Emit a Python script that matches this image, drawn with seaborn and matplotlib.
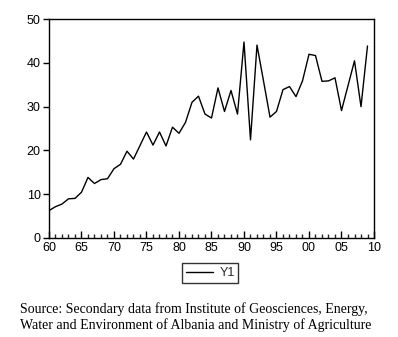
import numpy as np
import pandas as pd
import matplotlib
matplotlib.use("Agg")
import matplotlib.pyplot as plt
import seaborn as sns

# dados (1960-2009)
anos = list(range(1960, 2010))
y1 = [6.2, 7.1, 7.7, 8.9, 9.0, 10.4, 13.8, 12.4, 13.3, 13.5,
      15.8, 16.8, 19.8, 18.0, 21.1, 24.2, 21.2, 24.2, 21.0, 25.3,
      23.9, 26.4, 31.0, 32.4, 28.3, 27.4, 34.3, 28.9, 33.7, 28.3,
      44.8, 22.4, 44.1, 35.9, 27.6, 28.9, 33.9, 34.6, 32.3, 35.9,
      42.0, 41.7, 35.8, 35.9, 36.6, 29.1, 34.8, 40.5, 30.0, 43.9]
xticks = [1960, 1965, 1970, 1975, 1980, 1985, 1990, 1995, 2000, 2005, 2010]
xlabels = ["60", "65", "70", "75", "80", "85", "90", "95", "00", "05", "10"]
yticks = [0, 10, 20, 30, 40, 50]
fonte = ["Source: Secondary data from Institute of Geosciences, Energy,",
         "Water and Environment of Albania and Ministry of Agriculture"]

df = pd.DataFrame({"ano": anos, "Y1": y1})

sns.set_style("white")
plt.rcParams['font.family'] = ['Liberation Sans', 'DejaVu Sans']

fig = plt.figure(figsize=(3.98, 3.37), dpi=100)
ax = fig.add_axes([0.1231, 0.2947, 0.8166, 0.648])

sns.lineplot(data=df, x="ano", y="Y1", color="black", linewidth=1, ax=ax, label="Y1")

ax.set_xlim(1960, 2010)
ax.set_ylim(0, 50)
ax.set_xticks(xticks)
ax.set_xticklabels(xlabels)
ax.set_xticks(anos, minor=True)
ax.set_yticks(yticks)
ax.set_xlabel("")
ax.set_ylabel("")

for s in ax.spines.values():
    s.set_color("black")
    s.set_linewidth(1)

ax.tick_params(axis="x", which="major", direction="in", length=5, width=1,
               labelsize=9, pad=3, colors="black", bottom=True)
ax.tick_params(axis="x", which="minor", direction="in", length=3, width=1, bottom=True)
ax.tick_params(axis="y", which="major", direction="out", length=4, width=1,
               labelsize=9, pad=2, colors="black", left=True)

ax.get_legend().remove()
leg = fig.legend(loc="center", bbox_to_anchor=(0.528, 0.19), frameon=True,
                 fancybox=False, edgecolor="black", fontsize=9,
                 handlelength=2.2, handletextpad=0.5, borderpad=0.3,
                 borderaxespad=0)
leg.get_frame().set_linewidth(1)

# nota de rodape (fonte)
fig.text(0.05, 0.0703, fonte[0], family="Liberation Serif", fontsize=10,
         color="black", va="baseline", ha="left")
fig.text(0.05, 0.0228, fonte[1], family="Liberation Serif", fontsize=10,
         color="black", va="baseline", ha="left")

fig.savefig("out.png", dpi=100)
